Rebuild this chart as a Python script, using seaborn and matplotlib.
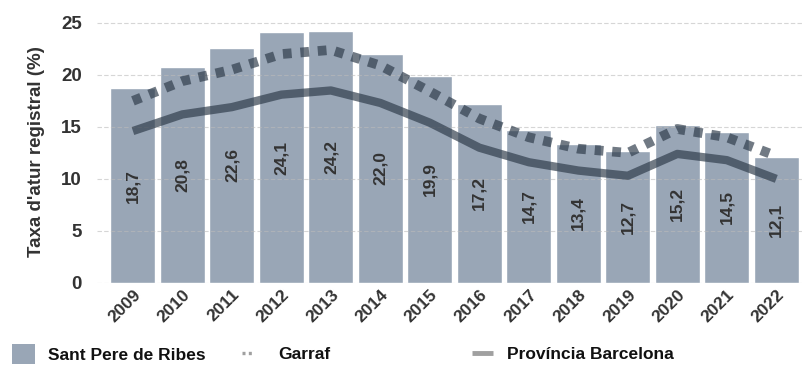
import matplotlib
matplotlib.use("Agg")
import matplotlib.pyplot as plt
import seaborn as sns
import pandas as pd
from matplotlib.patches import Patch
from matplotlib.lines import Line2D

years = ["2009", "2010", "2011", "2012", "2013", "2014", "2015",
         "2016", "2017", "2018", "2019", "2020", "2021", "2022"]
sant_pere = [18.7, 20.8, 22.6, 24.1, 24.2, 22.0, 19.9,
             17.2, 14.7, 13.4, 12.7, 15.2, 14.5, 12.1]
garraf = [17.5, 19.4, 20.5, 22.0, 22.4, 20.9, 18.4,
          15.8, 14.0, 12.9, 12.5, 14.8, 14.0, 12.2]
provincia = [14.6, 16.2, 16.9, 18.1, 18.5, 17.3, 15.4,
             13.0, 11.6, 10.8, 10.3, 12.4, 11.8, 10.0]
y_ticks = [0, 5, 10, 15, 20, 25]

sns.set_theme(style="white")
plt.rcParams["font.family"] = ["Liberation Sans", "DejaVu Sans"]

df = pd.DataFrame({"any": years, "Sant Pere de Ribes": sant_pere,
                   "Garraf": garraf, "Província Barcelona": provincia})

bar_color = "#99A6B6"
line_color = "#2E3B4A"
text_color = "#333333"

fig = plt.figure(figsize=(8.04, 3.65), dpi=100)
ax = fig.add_axes([0.121, 0.225, 0.879, 0.718])

sns.barplot(data=df, x="any", y="Sant Pere de Ribes", color=bar_color,
            saturation=1, width=0.91, ax=ax, zorder=2)

x = list(range(len(years)))
sns.lineplot(x=x, y=garraf, ax=ax, color=line_color, alpha=0.68,
             linewidth=7, linestyle=(0, (0.9, 0.9)), zorder=4)
sns.lineplot(x=x, y=provincia, ax=ax, color=line_color, alpha=0.68,
             linewidth=6, solid_capstyle="butt", zorder=4)

for xi, v in zip(x, sant_pere):
    ax.text(xi, v / 2, f"{v:.1f}".replace(".", ","), rotation=90,
            ha="center", va="center", fontsize=12.5, fontweight="bold",
            color=text_color, zorder=5)

ax.set_ylim(0, 25.2)
ax.set_xlim(-0.72, 13.56)
ax.set_yticks(y_ticks)
ax.yaxis.grid(True, color="#BBBBBB", linestyle=(0, (4, 2)), linewidth=0.8,
              alpha=0.6, zorder=3)
ax.set_axisbelow(False)
for s in ax.spines.values():
    s.set_visible(False)

ax.set_xlabel("")
ax.set_ylabel("Taxa d'atur registral (%)", fontsize=13.5, fontweight="bold",
              color=text_color, labelpad=12)
ax.tick_params(axis="y", length=0, pad=11, labelsize=13.5, labelcolor=text_color)
ax.tick_params(axis="x", length=0, pad=3, labelsize=12.5, labelcolor=text_color)
for lab in ax.get_yticklabels():
    lab.set_fontweight("bold")
for lab in ax.get_xticklabels():
    lab.set_fontweight("bold")
    lab.set_rotation(45)
    lab.set_ha("right")
    lab.set_rotation_mode("anchor")

# legend entries placed individually along the bottom edge
legend_kw = dict(frameon=False, fontsize=12.5, borderaxespad=0, borderpad=0)
h1 = Patch(facecolor=bar_color, edgecolor="none")
h2 = Line2D([0], [0], color="#A0A0A0", linewidth=2.4, linestyle=(0, (0.9, 1.0)))
h3 = Line2D([0], [0], color="#A0A0A0", linewidth=3.5, solid_capstyle="butt")
entries = [(h1, "Sant Pere de Ribes", 0.015, 1.3, 1.4, 0.75),
           (h2, "Garraf", 0.301, 0.7, 0.7, 1.4),
           (h3, "Província Barcelona", 0.587, 1.2, 0.7, 0.8)]
for h, lab, xpos, hl, hh, pad in entries:
    leg = fig.legend([h], [lab], loc="center left", bbox_to_anchor=(xpos, 0.03),
                     handlelength=hl, handleheight=hh, handletextpad=pad,
                     **legend_kw)
    for t in leg.get_texts():
        t.set_fontweight("bold")
        t.set_color("#111111")

fig.savefig("out.png", dpi=100)
